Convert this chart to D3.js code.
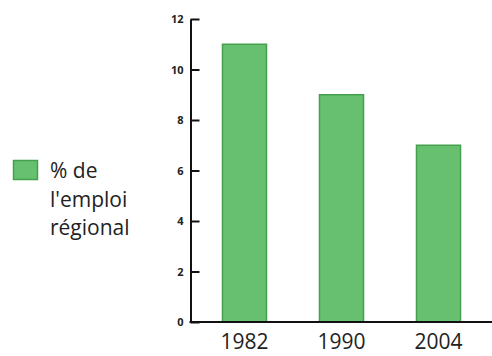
<!DOCTYPE html>
<html>
<head>
<meta charset="utf-8">
<script src="https://cdn.jsdelivr.net/npm/d3@7"></script>
<style>
  html, body { margin: 0; padding: 0; background: #fff; }
  svg { display: block; }
</style>
</head>
<body>
<svg id="chart" width="492" height="356"></svg>
<script>
const categories = ["1982", "1990", "2004"];
const values = [11, 9, 7];
const yTicks = [0, 2, 4, 6, 8, 10, 12];
const legendLines = ["% de", "l'emploi", "régional"];

const svg = d3.select("#chart");
const x = d3.scaleBand().domain(categories).range([196, 487])
  .paddingInner(0.546).paddingOuter(0.273);
const y = d3.scaleLinear().domain([0, 12]).range([322, 19]);

// bars
svg.selectAll("rect.bar").data(values).join("rect")
  .attr("class", "bar")
  .attr("x", (d, i) => x(categories[i]))
  .attr("y", d => y(d))
  .attr("width", x.bandwidth())
  .attr("height", d => y(0) - y(d))
  .attr("fill", "#66c070")
  .attr("stroke", "#45a04e")
  .attr("stroke-width", 1.5);

// y axis
const yAxis = d3.axisLeft(y).tickValues(yTicks).tickSizeInner(-9).tickSizeOuter(0).tickPadding(7);
const gy = svg.append("g").attr("transform", "translate(190.5,0)").call(yAxis);
gy.select(".domain").attr("stroke", "#111").attr("stroke-width", 2);
gy.selectAll(".tick line").attr("stroke", "#111").attr("stroke-width", 2);
gy.selectAll(".tick text").attr("font-family", "Open Sans, sans-serif")
  .attr("font-size", 11).attr("font-weight", "bold").attr("fill", "#222");

// x axis
const xAxis = d3.axisBottom(x).tickSize(0).tickPadding(12);
const gx = svg.append("g").attr("transform", "translate(0,322)").call(xAxis);
gx.select(".domain").remove();
gx.append("line").attr("x1", 189.5).attr("x2", 492).attr("y1", 0).attr("y2", 0)
  .attr("stroke", "#111").attr("stroke-width", 2);
gx.selectAll(".tick text").attr("font-family", "Open Sans, sans-serif")
  .attr("font-size", 21).attr("fill", "#222");

// legend
const lg = svg.append("g");
lg.append("rect").attr("x", 13.5).attr("y", 160.5).attr("width", 24).attr("height", 19)
  .attr("fill", "#66c070").attr("stroke", "#45a04e").attr("stroke-width", 1.5);
lg.selectAll("text").data(legendLines).join("text")
  .attr("x", 50).attr("y", (d, i) => 178 + i * 28.5)
  .attr("font-family", "Open Sans, sans-serif").attr("font-size", 21)
  .attr("fill", "#222").text(d => d);
</script>
</body>
</html>
